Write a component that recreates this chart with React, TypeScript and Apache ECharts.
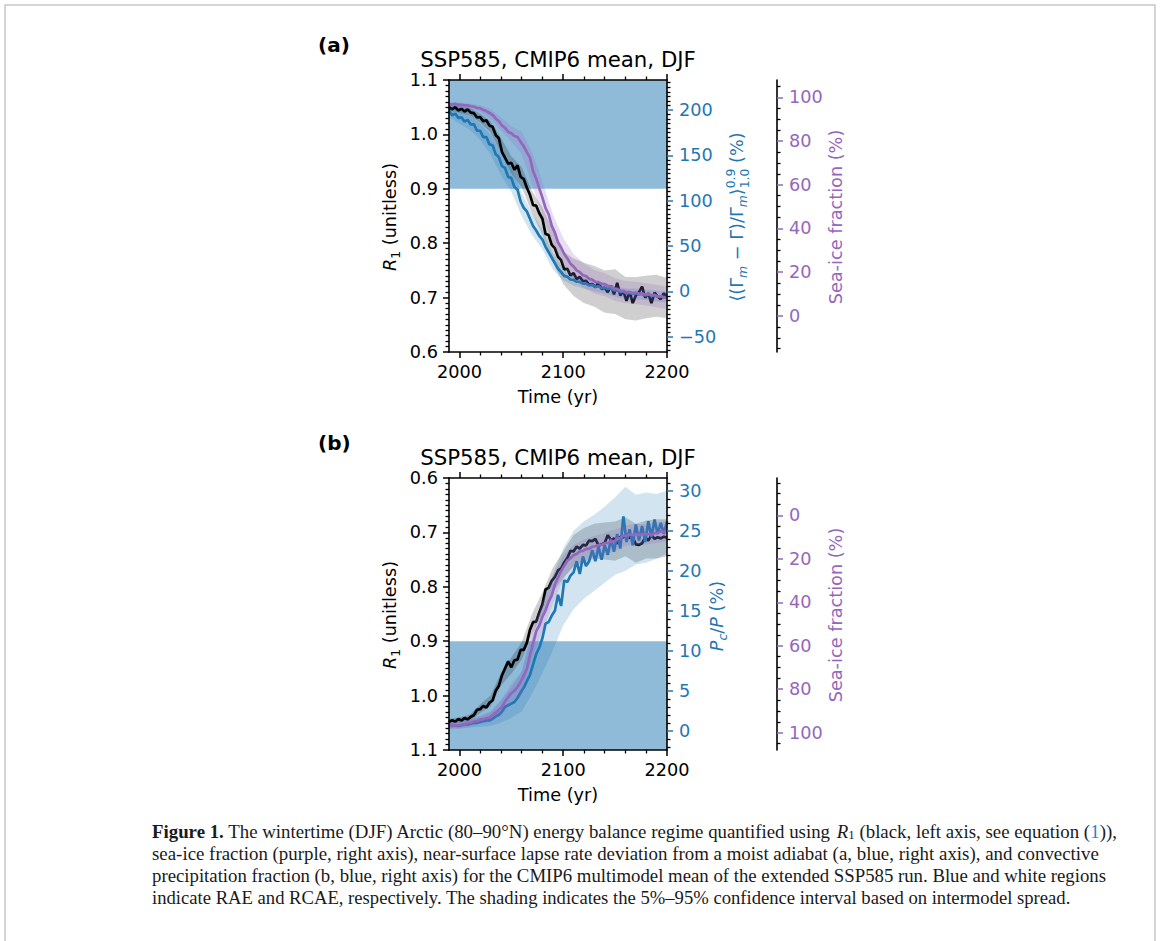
import React, { useEffect, useRef } from "react";
import * as echarts from "echarts";

// ---------------- DATA ----------------
const YEARS = [
  1990, 1993, 1996, 1999, 2002, 2005, 2008, 2011, 2014, 2017,
  2020, 2023, 2026, 2029, 2032, 2035, 2038, 2041, 2044, 2047,
  2050, 2053, 2056, 2059, 2062, 2065, 2068, 2071, 2074, 2077,
  2080, 2083, 2086, 2089, 2092, 2095, 2098, 2101, 2104, 2107,
  2110, 2113, 2116, 2119, 2122, 2125, 2128, 2131, 2134, 2137,
  2140, 2143, 2146, 2149, 2152, 2155, 2158, 2161, 2164, 2167,
  2170, 2173, 2176, 2179, 2182, 2185, 2188, 2191, 2194, 2197,
  2200,
];
const BAND_YEARS = [1990, 2000, 2010, 2020, 2030, 2040, 2050, 2060, 2070, 2080, 2090, 2100, 2110, 2120, 2130, 2140, 2150, 2160, 2170, 2180, 2190, 2200];

// Panel (a)
const R1_A = [
  1.050, 1.046, 1.050, 1.044, 1.047, 1.042, 1.046, 1.040, 1.039, 1.031,
  1.032, 1.024, 1.026, 1.016, 1.014, 0.999, 0.993, 0.968, 0.957, 0.946,
  0.948, 0.935, 0.943, 0.922, 0.918, 0.902, 0.889, 0.870, 0.869, 0.855,
  0.845, 0.817, 0.815, 0.797, 0.791, 0.775, 0.769, 0.752, 0.753, 0.741,
  0.745, 0.734, 0.738, 0.730, 0.731, 0.724, 0.725, 0.719, 0.728, 0.716,
  0.718, 0.710, 0.722, 0.706, 0.727, 0.704, 0.712, 0.694, 0.711, 0.690,
  0.704, 0.710, 0.720, 0.700, 0.708, 0.690, 0.709, 0.702, 0.697, 0.708,
  0.700,
];
const SEAICE_A = [
  97.0, 96.7, 97.0, 96.5, 96.6, 96.3, 96.3, 95.9, 95.7, 95.1,
  95.0, 94.2, 93.7, 92.8, 91.9, 90.2, 89.1, 87.1, 86.0, 84.1,
  83.5, 82.3, 81.8, 79.6, 77.6, 74.9, 72.4, 66.2, 62.7, 58.3,
  54.1, 49.3, 46.5, 41.2, 38.1, 33.7, 31.3, 28.3, 26.3, 23.9,
  22.6, 20.8, 20.0, 18.6, 18.2, 17.0, 16.6, 15.6, 15.5, 14.6,
  14.5, 13.6, 13.4, 12.4, 12.4, 11.5, 11.5, 10.8, 11.0, 10.4,
  10.7, 10.1, 10.3, 9.8, 10.0, 9.4, 9.6, 8.9, 9.0, 8.4,
  8.3,
];
const LAPSE_A = [
  199, 194, 196, 191, 192, 187, 189, 184, 184, 177,
  177, 170, 170, 162, 161, 151, 148, 138, 136, 126,
  125, 115, 112, 99, 92, 88, 80, 72, 67, 61,
  57, 49, 43, 37, 31, 25, 21, 17, 16, 13,
  12.5, 10.5, 10.5, 8.5, 8.5, 6.5, 7, 5, 5.5, 3.5,
  4, 2.5, 3, 1, 1, -1, -0.5, -2.5, -2, -3,
  -2.5, -3.5, -3, -4.5, -3.5, -5, -4.5, -6, -5.5, -6.5,
  -6.5,
];
const R1_A_LO = [1.044, 1.040, 1.035, 1.022, 1.004, 0.966, 0.928, 0.903, 0.855, 0.815, 0.765, 0.725, 0.703, 0.690, 0.683, 0.672, 0.670, 0.660, 0.658, 0.662, 0.665, 0.662];
const R1_A_HI = [1.056, 1.052, 1.049, 1.038, 1.024, 0.994, 0.960, 0.940, 0.896, 0.866, 0.824, 0.785, 0.772, 0.764, 0.758, 0.750, 0.752, 0.738, 0.738, 0.740, 0.742, 0.736];
const SEAICE_A_LO = [96.0, 95.5, 94.8, 93.4, 90.2, 84.8, 79.8, 74.0, 60.0, 46.0, 32.5, 23.0, 16.5, 12.8, 10.2, 9.0, 6.8, 5.8, 5.4, 4.8, 4.0, 3.2];
const SEAICE_A_HI = [98.0, 97.5, 97.2, 96.4, 94.6, 90.8, 86.8, 84.4, 75.0, 61.5, 46.5, 35.8, 28.3, 24.0, 21.0, 19.6, 17.2, 16.0, 15.6, 15.0, 14.2, 13.4];
const LAPSE_A_LO = [192, 185, 178, 167, 151, 128, 110, 83, 62, 46, 24, 12, 6, 3, 0, -2.5, -6, -8.5, -9, -10, -11.5, -12.5];
const LAPSE_A_HI = [204, 199, 194, 185, 173, 152, 136, 109, 86, 68, 42, 26, 18, 15, 12, 9.5, 6, 3, 3, 2, 0.5, -0.5];

// Panel (b)
const R1_B = [
  1.049, 1.045, 1.048, 1.043, 1.046, 1.041, 1.044, 1.039, 1.036, 1.026,
  1.025, 1.019, 1.022, 1.013, 1.009, 0.991, 0.982, 0.963, 0.950, 0.937,
  0.948, 0.935, 0.934, 0.916, 0.916, 0.903, 0.879, 0.865, 0.864, 0.847,
  0.832, 0.805, 0.802, 0.789, 0.782, 0.770, 0.766, 0.755, 0.747, 0.734,
  0.735, 0.726, 0.730, 0.723, 0.724, 0.715, 0.716, 0.712, 0.724, 0.722,
  0.719, 0.705, 0.714, 0.711, 0.721, 0.708, 0.709, 0.704, 0.710, 0.709,
  0.722, 0.723, 0.720, 0.709, 0.715, 0.705, 0.712, 0.709, 0.711, 0.708,
  0.710,
];
const SEAICE_B = [
  96.8, 96.9, 96.6, 96.7, 96.3, 96.1, 95.7, 95.5, 94.7, 94.7,
  93.9, 93.9, 93.3, 93.1, 91.9, 90.8, 89.6, 88.2, 85.6, 83.7,
  81.8, 80.8, 79.0, 76.7, 73.8, 70.7, 64.3, 58.9, 53.3, 50.7,
  46.6, 43.7, 39.8, 36.7, 31.8, 28.7, 25.6, 23.2, 20.8, 19.7,
  18.3, 17.8, 16.6, 16.4, 15.4, 15.4, 14.4, 14.2, 13.6, 13.6,
  12.8, 12.8, 12.0, 12.0, 10.8, 10.5, 9.4, 9.5, 8.8, 9.1,
  8.6, 9.1, 8.6, 8.8, 8.6, 8.9, 8.2, 8.2, 7.4, 7.6,
  7.2,
];
const PCP_B = [
  0.7, 0.6, 0.7, 0.6, 0.7, 0.8, 0.8, 0.9, 1.0, 1.0,
  1.1, 1.2, 1.3, 1.3, 1.5, 1.8, 2.0, 2.4, 3.0, 3.2,
  3.4, 3.6, 4.1, 4.8, 5.4, 6.2, 7.0, 8.3, 9.6, 10.4,
  11.6, 13.4, 13.6, 14.4, 15.0, 17.0, 15.6, 18.8, 18.6, 19.4,
  19.8, 21.2, 19.6, 21.8, 20.6, 21.2, 22.6, 21.2, 23.0, 21.4,
  23.2, 22.0, 24.0, 22.4, 24.6, 22.8, 26.8, 23.6, 25.2, 23.2,
  25.8, 23.8, 25.6, 23.6, 26.2, 24.2, 26.4, 24.6, 26.0, 24.6,
  26.2,
];
const R1_B_LO = [1.043, 1.040, 1.035, 1.016, 1.000, 0.958, 0.930, 0.902, 0.850, 0.810, 0.765, 0.735, 0.705, 0.692, 0.684, 0.682, 0.680, 0.672, 0.684, 0.678, 0.676, 0.676];
const R1_B_HI = [1.053, 1.050, 1.047, 1.032, 1.020, 0.982, 0.960, 0.934, 0.886, 0.850, 0.810, 0.784, 0.762, 0.756, 0.748, 0.750, 0.752, 0.744, 0.756, 0.748, 0.748, 0.744];
const SEAICE_B_LO = [95.2, 95.0, 93.8, 92.0, 90.0, 85.0, 77.5, 72.0, 52.0, 40.0, 28.0, 18.5, 13.5, 11.0, 9.5, 8.0, 6.5, 4.5, 4.0, 4.0, 3.5, 2.5];
const SEAICE_B_HI = [98.4, 98.2, 97.4, 96.0, 95.2, 92.2, 86.5, 83.0, 65.4, 53.6, 41.0, 29.5, 23.5, 20.6, 18.9, 18.0, 16.5, 13.9, 13.6, 13.4, 12.7, 11.9];
const PCP_B_LO = [0.3, 0.3, 0.4, 0.5, 0.6, 1.0, 1.6, 2.4, 4.6, 7.2, 10.0, 13.2, 15.2, 16.5, 17.5, 18.5, 19.5, 20.0, 20.8, 21.0, 21.5, 22.2];
const PCP_B_HI = [1.1, 1.1, 1.4, 1.8, 2.3, 3.8, 5.4, 7.4, 12.0, 16.0, 19.5, 22.8, 25.0, 26.2, 27.0, 28.0, 29.2, 30.5, 29.5, 29.8, 29.6, 30.0];

// Ticks
const X_MAJOR = [2000, 2100, 2200];
const X_MINOR = [2020, 2040, 2060, 2080, 2120, 2140, 2160, 2180];
const LAPSE_TICKS = [-50, 0, 50, 100, 150, 200];
const PCP_TICKS = [0, 5, 10, 15, 20, 25, 30];
const SEAICE_TICKS = [0, 20, 40, 60, 80, 100];
const RAE_THRESHOLD = 0.9;

// ---------------- STYLE ----------------
const FONT = "DejaVu Sans";
const SERIF = "Liberation Serif";
const TS = 17.7;
const BLUE = "#1f77b4";
const PURPLE = "#9467bd";
const X_MIN = 1990;
const X_MAX = 2200;

function minors(from: number, to: number, step: number, skip: number) {
  const out: number[] = [];
  for (let k = Math.ceil(from / step); k * step <= to + 1e-9; k++) {
    const v = Math.round(k * step * 1000) / 1000;
    if (Math.abs(v / skip - Math.round(v / skip)) > 1e-6) out.push(v);
  }
  return out;
}

type Seg = { t: string; k?: number; it?: boolean; b?: boolean; dy?: number; c?: string; hold?: boolean };

function makeMeasure() {
  const c = document.createElement("canvas");
  const ctx = c.getContext("2d")!;
  return (t: string, font: string) => {
    ctx.font = font;
    return ctx.measureText(t).width;
  };
}

function layoutRun(segs: Seg[], family: string, size: number, color: string, measure: (t: string, f: string) => number) {
  let x = 0;
  let held = 0;
  const children: any[] = [];
  for (const s of segs) {
    const fs = size * (s.k ?? 1);
    const font = `${s.it ? "italic" : "normal"} ${s.b ? "bold" : "normal"} ${fs}px ${family}`;
    const w = measure(s.t, font);
    children.push({
      type: "text",
      x,
      y: (s.dy ?? 0) * size,
      silent: true,
      style: { text: s.t, font, fill: s.c ?? color, align: "left", verticalAlign: "middle" },
    });
    if (s.hold) held = Math.max(held, w);
    else {
      x += Math.max(w, held);
      held = 0;
    }
  }
  return { children, width: x };
}

function buildOption() {
  const measure = makeMeasure();
  const tickLine = (color: string, w = 1.5) => ({ color, width: w });
  const spine = { color: "#000", width: 1.6 };

  const xAxesFor = (gridIndex: number) => {
    const base = { type: "value", gridIndex, min: X_MIN, max: X_MAX, splitLine: { show: false }, z: 10, silent: true };
    return [
      {
        ...base, position: "bottom",
        axisLine: { show: true, onZero: false, lineStyle: spine },
        axisTick: { show: true, customValues: X_MAJOR, length: 6, lineStyle: tickLine("#000") },
        axisLabel: { show: true, customValues: X_MAJOR, margin: 11, color: "#000", fontSize: TS, fontFamily: FONT, formatter: (v: number) => String(v) },
      },
      {
        ...base, position: "bottom",
        axisLine: { show: false, onZero: false },
        axisTick: { show: true, customValues: X_MINOR, length: 3.5, lineStyle: tickLine("#000", 1.3) },
        axisLabel: { show: false },
      },
      {
        ...base, position: "top",
        axisLine: { show: true, onZero: false, lineStyle: spine },
        axisTick: { show: true, customValues: X_MAJOR, length: 6, lineStyle: tickLine("#000") },
        axisLabel: { show: false },
      },
      {
        ...base, position: "top",
        axisLine: { show: false, onZero: false },
        axisTick: { show: true, customValues: X_MINOR, length: 3.5, lineStyle: tickLine("#000", 1.3) },
        axisLabel: { show: false },
      },
    ];
  };

  const yAxesFor = (
    gridIndex: number,
    inverse: boolean,
    rMin: number, rMax: number, rTicks: number[], rMinorStep: number, rMinorSkip: number,
    sMin: number, sMax: number,
  ) => {
    const base = { type: "value", gridIndex, splitLine: { show: false }, z: 10, silent: true };
    const fmtMinus = (v: number) => (v < 0 ? "\u2212" + Math.abs(v) : String(v));
    return [
      {
        ...base, position: "left", min: 0.6, max: 1.1, interval: 0.1, inverse,
        axisLine: { show: true, onZero: false, lineStyle: spine },
        axisTick: { show: true, length: 6, lineStyle: tickLine("#000") },
        minorTick: { show: true, splitNumber: 10, length: 3.5, lineStyle: tickLine("#000", 1.3) },
        axisLabel: { show: true, margin: 11, color: "#000", fontSize: TS, fontFamily: FONT, formatter: (v: number) => v.toFixed(1) },
      },
      {
        ...base, position: "right", min: rMin, max: rMax, inverse: false,
        axisLine: { show: true, onZero: false, lineStyle: spine },
        axisTick: { show: true, customValues: rTicks, length: 6, lineStyle: tickLine(BLUE) },
        axisLabel: { show: true, customValues: rTicks, margin: 12, color: BLUE, fontSize: TS, fontFamily: FONT, formatter: fmtMinus },
      },
      {
        ...base, position: "right", min: rMin, max: rMax,
        axisLine: { show: false, onZero: false },
        axisTick: { show: true, customValues: minors(rMin, rMax, rMinorStep, rMinorSkip), length: 3.5, lineStyle: tickLine("#000", 1.3) },
        axisLabel: { show: false },
      },
      {
        ...base, position: "right", offset: 110, min: sMin, max: sMax, inverse,
        axisLine: { show: true, onZero: false, lineStyle: spine },
        axisTick: { show: true, customValues: SEAICE_TICKS, length: 6, lineStyle: tickLine(PURPLE) },
        axisLabel: { show: true, customValues: SEAICE_TICKS, margin: 12, color: PURPLE, fontSize: TS, fontFamily: FONT },
      },
      {
        ...base, position: "right", offset: 110, min: sMin, max: sMax, inverse,
        axisLine: { show: false, onZero: false },
        axisTick: { show: true, customValues: minors(sMin, sMax, 5, 20), length: 3.5, lineStyle: tickLine("#000", 1.3) },
        axisLabel: { show: false },
      },
    ];
  };

  const band = (xi: number, yi: number, lo: number[], hi: number[], color: string, opacity: number, z: number) => ({
    type: "custom", xAxisIndex: xi, yAxisIndex: yi, z, silent: true, clip: true,
    data: [[BAND_YEARS[0], lo[0]]],
    renderItem: (_p: any, api: any) => {
      const pts: number[][] = [];
      for (let i = 0; i < BAND_YEARS.length; i++) pts.push(api.coord([BAND_YEARS[i], hi[i]]));
      for (let i = BAND_YEARS.length - 1; i >= 0; i--) pts.push(api.coord([BAND_YEARS[i], lo[i]]));
      return { type: "polygon", shape: { points: pts }, style: { fill: color, opacity } };
    },
  });
  const line = (xi: number, yi: number, vals: number[], color: string, z: number) => ({
    type: "line", xAxisIndex: xi, yAxisIndex: yi, z, silent: true, symbol: "none", showSymbol: false,
    data: YEARS.map((y, i) => [y, vals[i]]),
    lineStyle: { color, width: 2.7 }, itemStyle: { color }, emphasis: { disabled: true },
  });
  const rae = (xi: number, yi: number) => ({
    type: "custom", xAxisIndex: xi, yAxisIndex: yi, z: 1, silent: true,
    data: [[X_MIN, RAE_THRESHOLD]],
    renderItem: (_p: any, api: any) => {
      const a = api.coord([X_MIN, RAE_THRESHOLD]);
      const b = api.coord([X_MAX, 1.1]);
      return {
        type: "rect",
        shape: { x: Math.min(a[0], b[0]), y: Math.min(a[1], b[1]), width: Math.abs(b[0] - a[0]), height: Math.abs(b[1] - a[1]) },
        style: { fill: BLUE, opacity: 0.5 },
      };
    },
  });

  const series = [
    rae(0, 0),
    band(0, 0, R1_A_LO, R1_A_HI, "#000", 0.19, 2),
    line(0, 0, R1_A, "#000", 3),
    band(0, 1, LAPSE_A_LO, LAPSE_A_HI, BLUE, 0.2, 4),
    line(0, 1, LAPSE_A, BLUE, 5),
    band(0, 3, SEAICE_A_LO, SEAICE_A_HI, PURPLE, 0.22, 6),
    line(0, 3, SEAICE_A, PURPLE, 7),

    rae(4, 5),
    band(4, 5, R1_B_LO, R1_B_HI, "#000", 0.19, 2),
    line(4, 5, R1_B, "#000", 3),
    band(4, 6, PCP_B_LO, PCP_B_HI, BLUE, 0.2, 4),
    line(4, 6, PCP_B, BLUE, 5),
    band(4, 8, SEAICE_B_LO, SEAICE_B_HI, PURPLE, 0.22, 6),
    line(4, 8, SEAICE_B, PURPLE, 7),
  ];

  const rotLabel = (cx: number, cy: number, segs: Seg[], color: string) => {
    const r = layoutRun(segs, FONT, TS, color, measure);
    return {
      type: "group", x: cx, y: cy, rotation: Math.PI / 2, silent: true,
      children: r.children.map((ch) => ({ ...ch, x: ch.x - r.width / 2 })),
    };
  };
  const centerText = (x: number, y: number, text: string, size: number, bold = false) => ({
    type: "text", x, y, silent: true,
    style: { text, font: `normal ${bold ? "bold" : "normal"} ${size}px ${FONT}`, fill: "#000", align: "center", verticalAlign: "middle" },
  });

  const r1Segs: Seg[] = [{ t: "R", it: true }, { t: "1", k: 0.7, dy: 0.3 }, { t: " (unitless)" }];
  const lapseSegs: Seg[] = [
    { t: "\u27E8(\u0393" }, { t: "m", it: true, k: 0.7, dy: 0.3 }, { t: " \u2212 \u0393)/\u0393" },
    { t: "m", it: true, k: 0.7, dy: 0.3 }, { t: "\u27E9" },
    { t: "0.9", k: 0.7, dy: -0.36, hold: true }, { t: "1.0", k: 0.7, dy: 0.4 }, { t: " (%)" },
  ];
  const pcpSegs: Seg[] = [{ t: "P", it: true }, { t: "c", it: true, k: 0.7, dy: 0.3 }, { t: "/" }, { t: "P", it: true }, { t: " (%)" }];
  const seaSegs: Seg[] = [{ t: "Sea-ice fraction (%)" }];

  const capSize = 19;
  const capLines: { segs: Seg[]; width: number; y: number }[] = [
    {
      segs: [
        { t: "Figure 1.", b: true },
        { t: " The wintertime (DJF) Arctic (80\u201390\u00B0N) energy balance regime quantified using " },
        { t: "R", it: true }, { t: "1", k: 0.68, dy: 0.22 },
        { t: " (black, left axis, see equation (" }, { t: "1", c: "#2c83c0" }, { t: "))," },
      ],
      width: 965, y: 831,
    },
    { segs: [{ t: "sea-ice fraction (purple, right axis), near-surface lapse rate deviation from a moist adiabat (a, blue, right axis), and convective" }], width: 947, y: 853.3 },
    { segs: [{ t: "precipitation fraction (b, blue, right axis) for the CMIP6 multimodel mean of the extended SSP585 run. Blue and white regions" }], width: 955, y: 875.6 },
    { segs: [{ t: "indicate RAE and RCAE, respectively. The shading indicates the 5%\u201395% confidence interval based on intermodel spread." }], width: 919, y: 897.9 },
  ];
  const caption = capLines.map((ln) => {
    const r = layoutRun(ln.segs, SERIF, capSize, "#1a1a1a", measure);
    return { type: "group", x: 152, y: ln.y, scaleX: ln.width / r.width, silent: true, children: r.children };
  });

  const graphics: any[] = [
    { type: "rect", silent: true, z: -10, shape: { x: 5, y: 5, width: 1150, height: 990 }, style: { fill: "none", stroke: "#c8c8c8", lineWidth: 1.5 } },
    { type: "text", x: 318, y: 45, silent: true, style: { text: "(a)", font: `normal bold 20px ${FONT}`, fill: "#000", align: "left", verticalAlign: "middle" } },
    { type: "text", x: 318, y: 443, silent: true, style: { text: "(b)", font: `normal bold 20px ${FONT}`, fill: "#000", align: "left", verticalAlign: "middle" } },
    centerText(558, 59.5, "SSP585, CMIP6 mean, DJF", 21.3),
    centerText(558, 457.5, "SSP585, CMIP6 mean, DJF", 21.3),
    centerText(558, 397, "Time (yr)", TS),
    centerText(558, 795, "Time (yr)", TS),
    rotLabel(390, 217, r1Segs, "#000"),
    rotLabel(390, 615, r1Segs, "#000"),
    rotLabel(737, 217, lapseSegs, BLUE),
    rotLabel(717, 616, pcpSegs, BLUE),
    rotLabel(836, 217, seaSegs, PURPLE),
    rotLabel(836, 615, seaSegs, PURPLE),
    ...caption,
  ];

  return {
    animation: false,
    backgroundColor: "#fff",
    textStyle: { fontFamily: FONT },
    grid: [
      { left: 449, top: 80, width: 218, height: 272, outerBoundsMode: "none", containLabel: false },
      { left: 449, top: 478, width: 218, height: 272, outerBoundsMode: "none", containLabel: false },
    ],
    xAxis: [...xAxesFor(0), ...xAxesFor(1)],
    yAxis: [
      ...yAxesFor(0, false, -67, 233, LAPSE_TICKS, 5, 50, -16.5, 107.9),
      ...yAxesFor(1, true, -2.4, 31.6, PCP_TICKS, 1, 5, -17.2, 108),
    ],
    series,
    graphic: { elements: graphics },
  };
}

export default function App() {
  const ref = useRef<HTMLDivElement>(null);
  useEffect(() => {
    const chart = echarts.init(ref.current!, null, { renderer: "svg" });
    chart.setOption(buildOption() as any);
    return () => chart.dispose();
  }, []);
  return (
    <div
      ref={ref}
      style={{ position: "fixed", left: 0, top: 0, width: 1165, height: 941, background: "#fff" }}
    />
  );
}
